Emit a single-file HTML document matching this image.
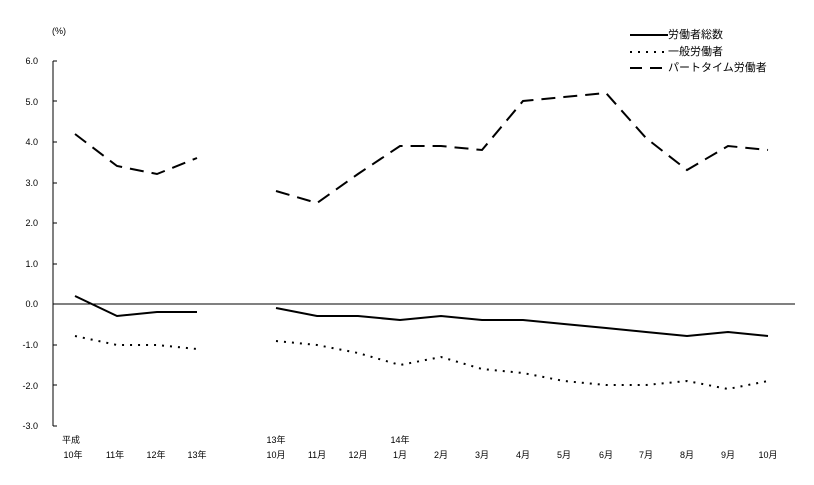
<!DOCTYPE html>
<html><head><meta charset="utf-8"><style>body{margin:0;background:#fff}svg text{font-family:"Liberation Sans","Noto Sans CJK JP",sans-serif;font-size:9px;fill:#000}</style></head><body>
<svg width="814" height="480" xmlns="http://www.w3.org/2000/svg">
<text x="52" y="34">(%)</text>
<g text-anchor="end">
<text x="38" y="64">6.0</text><text x="38" y="105">5.0</text><text x="38" y="145">4.0</text><text x="38" y="186">3.0</text><text x="38" y="226">2.0</text><text x="38" y="267">1.0</text><text x="38" y="307">0.0</text><text x="38" y="348">-1.0</text><text x="38" y="389">-2.0</text><text x="38" y="429">-3.0</text>
</g>
<path d="M53 61V426M53 61h4M53 101h4M53 142h4M53 183h4M53 223h4M53 264h4M53 345h4M53 385h4M53 426h4M53 304H795" stroke="#000" stroke-width="1" fill="none"/>
<g fill="none" stroke="#000" stroke-width="2" stroke-dasharray="14,8">
<polyline points="75,134 117,166 157,174 197,158"/>
<polyline points="276,191 317,203 358,174 400,146 441,146 482,150 523,101 564,97 606,93 646,138 687,170 728,146 768,150"/>
</g>
<g fill="none" stroke="#000" stroke-width="2">
<polyline points="75,296 117,316 157,312 197,312"/>
<polyline points="276,308 317,316 358,316 400,320 441,316 482,320 523,320 564,324 606,328 646,332 687,336 728,332 768,336"/>
</g>
<g fill="none" stroke="#000" stroke-width="2" stroke-dasharray="2,6">
<polyline points="75,336 117,345 157,345 197,349"/>
<polyline points="276,341 317,345 358,353 400,365 441,357 482,369 523,373 564,381 606,385 646,385 687,381 728,389 768,381"/>
</g>
<text x="62" y="443">平成</text>
<g text-anchor="middle">
<text x="73" y="458">10年</text><text x="115" y="458">11年</text><text x="156" y="458">12年</text><text x="197" y="458">13年</text>
<text x="276" y="443">13年</text><text x="400" y="443">14年</text>
<text x="276" y="458">10月</text><text x="317" y="458">11月</text><text x="358" y="458">12月</text><text x="400" y="458">1月</text><text x="441" y="458">2月</text><text x="482" y="458">3月</text><text x="523" y="458">4月</text><text x="564" y="458">5月</text><text x="606" y="458">6月</text><text x="646" y="458">7月</text><text x="687" y="458">8月</text><text x="728" y="458">9月</text><text x="768" y="458">10月</text>
</g>
<path d="M630 35H668" stroke="#000" stroke-width="2"/>
<path d="M630 52H668" stroke="#000" stroke-width="2" stroke-dasharray="2,6"/>
<path d="M630 68H668" stroke="#000" stroke-width="2" stroke-dasharray="12,8"/>
<text x="668" y="38" style="font-size:11px">労働者総数</text>
<text x="668" y="55" style="font-size:11px">一般労働者</text>
<text x="668" y="71" style="font-size:11px">パートタイム労働者</text>
</svg>
</body></html>
